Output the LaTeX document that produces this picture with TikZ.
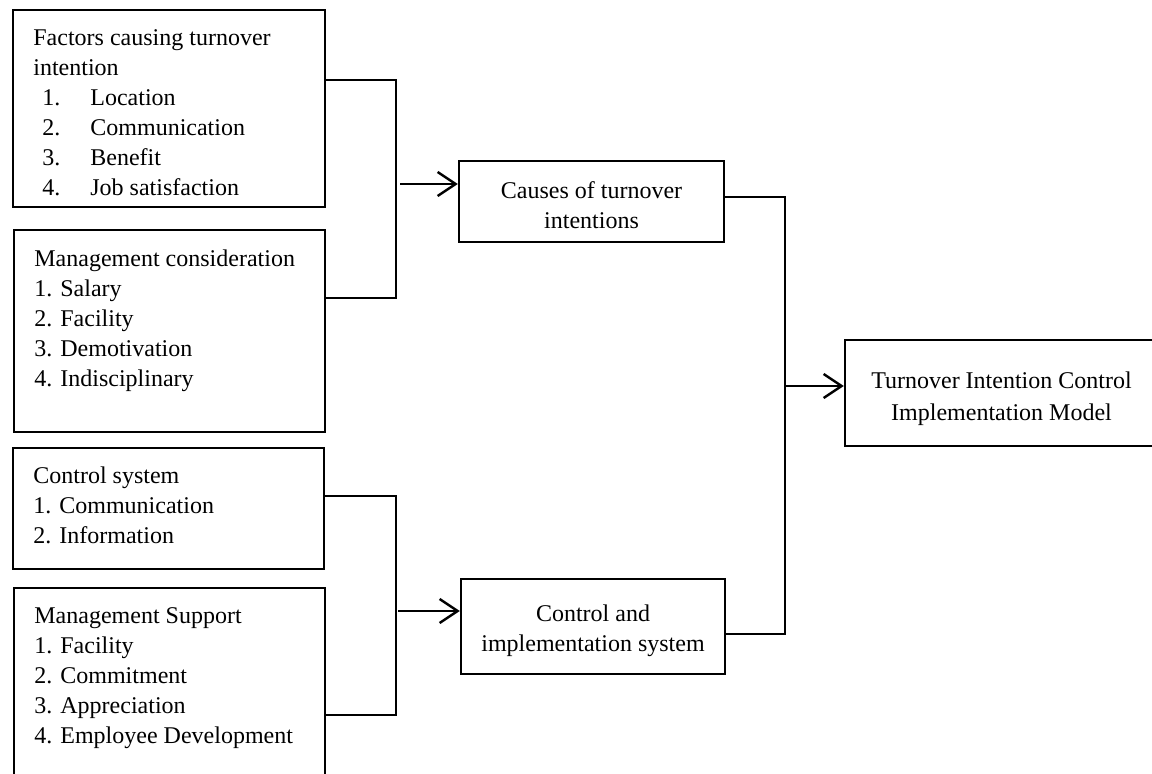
\documentclass[tikz,border=0pt]{standalone}
\usepackage{fontspec}
\setmainfont{Liberation Serif}
\usetikzlibrary{arrows.meta,calc}

\newcommand\boxfont{\fontsize{12}{15}\selectfont}
\newcommand\numitem[2]{\hspace*{4.5pt}\makebox[24pt][l]{#1}#2}

\tikzset{
  box/.style={draw, line width=1.2pt, inner sep=0pt},
  listtext/.style={anchor=north west, inner sep=0pt, align=left, font=\boxfont},
  midtext/.style={inner sep=0pt, align=center, font=\boxfont},
  link/.style={line width=0.7pt},
  arr/.style={line width=1.2pt, -{Straight Barb[length=9pt,width=12pt]}},
}

\begin{document}
\begin{tikzpicture}[x=0.5pt, y=-0.5pt]
\useasboundingbox (0,0) rectangle (1152,774);
\clip (0,0) rectangle (1152,774);

% left column
\node[box, anchor=north west, minimum width=156pt, minimum height=98.5pt] (fac) at (12,9) {};
\node[listtext] (factext) at ([xshift=10.5pt, yshift=-10pt]fac.north west)
  {Factors causing turnover\\intention\\
   \numitem{1.}{Location}\\
   \numitem{2.}{Communication}\\
   \numitem{3.}{Benefit}\\
   \numitem{4.}{Job satisfaction}};

\node[box, anchor=north west, minimum width=155.5pt, minimum height=101pt] (mgc) at (13,229) {};
\node[listtext] (mgctext) at ([xshift=10.5pt, yshift=-10pt]mgc.north west)
  {Management consideration\\1. Salary\\2. Facility\\3. Demotivation\\4. Indisciplinary};

\node[box, anchor=north west, minimum width=155.5pt, minimum height=60.5pt] (ctl) at (12,447) {};
\node[listtext] (ctltext) at ([xshift=10.5pt, yshift=-9.5pt]ctl.north west)
  {Control system\\1. Communication\\2. Information};

\node[box, anchor=north west, minimum width=155.5pt, minimum height=100pt] (sup) at (13,587) {};
\node[listtext] (suptext) at ([xshift=10.5pt, yshift=-10pt]sup.north west)
  {Management Support\\1. Facility\\2. Commitment\\3. Appreciation\\4. Employee Development};

% middle and right
\node[box, minimum width=132.5pt, minimum height=40.5pt] (cause) at (591.5,201.5) {};
\node[midtext] (causetext) at ([yshift=-2pt]cause.center) {Causes of turnover\\intentions};
\node[box, minimum width=132pt, minimum height=47.5pt] (ctlsys) at (593,626.5) {};
\node[midtext] (ctlsystext) at ([yshift=-2pt]ctlsys.center) {Control and\\implementation system};
\node[box, minimum width=156.5pt, minimum height=53pt] (model) at (1001.5,393) {};
\node[midtext, font=\fontsize{12}{16}\selectfont] (modeltext) at ([yshift=-3pt]model.center)
  {Turnover Intention Control\\Implementation Model};

\coordinate (j1) at (396,184);
\coordinate (j2) at (396,611);
\coordinate (j3) at (785,386);

\draw[link] ($(fac.north east)+(0,71)$) -| (j1) |- ($(mgc.north east)+(0,69)$);
\draw[arr] ($(j1)+(4,0)$) -- (j1 -| cause.west);
\draw[link] ($(ctl.north east)+(0,49)$) -| (j2) |- ($(sup.north east)+(0,128)$);
\draw[arr] ($(j2)+(2,0)$) -- (j2 -| ctlsys.west);
\draw[link] ($(cause.east)+(0,-4.5)$) -| (j3) |- ($(ctlsys.east)+(0,7.5)$);
\draw[arr] (j3) -- (j3 -| model.west);
\end{tikzpicture}
\end{document}
